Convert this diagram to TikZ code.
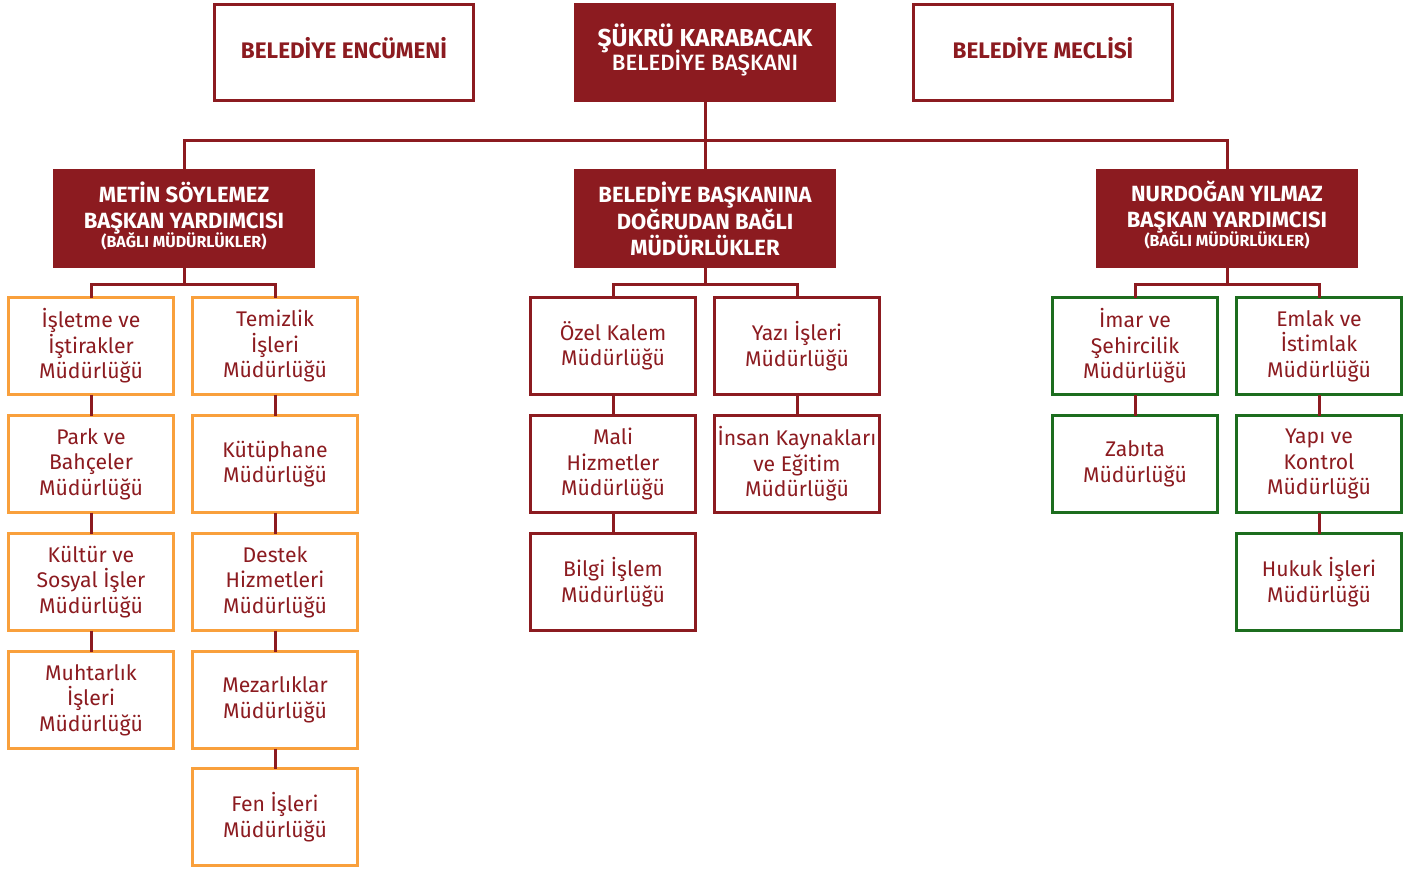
\documentclass[tikz,border=0pt]{standalone}
\usepackage{fontspec}
\setmainfont{Fira Sans}
\IfFontExistsTF{Fira Sans Medium}{\newfontface\medfont{Fira Sans Medium}}{\newcommand{\medfont}{\bfseries}}
\usetikzlibrary{calc}
\definecolor{dred}{HTML}{8C1B20}
\definecolor{orng}{HTML}{F9A03C}
\definecolor{grn}{HTML}{1C6D1E}
\tikzset{
  conn/.style={draw=dred,line width=3pt},
  headbox/.style={draw=dred,line width=3pt,fill=white,minimum width=259pt,minimum height=96pt,inner sep=0pt,outer sep=0pt,text=dred,font=\fontsize{22.5}{26}\selectfont\bfseries,align=center},
  fillbox/.style={fill=dred,minimum width=262pt,minimum height=99pt,inner sep=0pt,outer sep=0pt,text=white,font=\fontsize{22}{26}\selectfont\bfseries,align=center},
  unit/.style={fill=white,line width=3pt,minimum width=165pt,minimum height=97pt,inner sep=0pt,outer sep=0pt,text=dred,font=\fontsize{21.2}{25.5}\selectfont,align=center},
  obox/.style={unit,draw=orng},
  rbox/.style={unit,draw=dred},
  gbox/.style={unit,draw=grn},
}
\newcommand{\smallnote}[1]{{\fontsize{16}{20}\selectfont #1}}
\newcommand{\lift}[2]{\raisebox{#1}[\height][\depth]{\parbox{250pt}{\centering #2}}}
\begin{document}
\begin{tikzpicture}[x=1pt,y=-1pt]
\useasboundingbox (0,0) rectangle (1415,871);
% top level
\node[headbox] (enc) at (344,52.5) {\lift{4pt}{BELEDİYE ENCÜMENİ}};
\node[fillbox] (pres) at (705,52) {\lift{2pt}{{\fontsize{24.5}{26}\selectfont ŞÜKRÜ KARABACAK}\\[-3pt]{\medfont\fontsize{22.2}{26}\selectfont BELEDİYE BAŞKANI}}};
\node[headbox] (mec) at (1043,52.5) {\lift{4pt}{BELEDİYE MECLİSİ}};
% second level
\node[fillbox] (L) at (184,218.5) {\lift{3pt}{METİN SÖYLEMEZ\\BAŞKAN YARDIMCISI\\[-7pt]\smallnote{(BAĞLI MÜDÜRLÜKLER)}}};
\node[fillbox] (M) at (705,218.5) {BELEDİYE BAŞKANINA\\DOĞRUDAN BAĞLI\\MÜDÜRLÜKLER};
\node[fillbox] (R) at (1227,218.5) {\lift{3pt}{NURDOĞAN YILMAZ\\BAŞKAN YARDIMCISI\\[-7pt]\smallnote{(BAĞLI MÜDÜRLÜKLER)}}};
% bus
\coordinate (bus) at (705,140);
\draw[conn] (pres.south) -- (M.north);
\draw[conn] (L.north) |- (bus) -| (R.north);
% units left
\node[obox] (a1) at (91,346) {İşletme ve\\İştirakler\\Müdürlüğü};
\node[obox] (a2) at (91,464) {Park ve\\Bahçeler\\Müdürlüğü};
\node[obox] (a3) at (91,582) {Kültür ve\\Sosyal İşler\\Müdürlüğü};
\node[obox] (a4) at (91,700) {Muhtarlık\\İşleri\\Müdürlüğü};
\node[obox] (b1) at (275,346) {Temizlik\\İşleri\\Müdürlüğü};
\node[obox] (b2) at (275,464) {Kütüphane\\Müdürlüğü};
\node[obox] (b3) at (275,582) {Destek\\Hizmetleri\\Müdürlüğü};
\node[obox] (b4) at (275,700) {Mezarlıklar\\Müdürlüğü};
\node[obox] (b5) at (275,817) {Fen İşleri\\Müdürlüğü};
% units center
\node[rbox] (c1) at (613,346) {Özel Kalem\\Müdürlüğü};
\node[rbox] (c2) at (613,464) {Mali\\Hizmetler\\Müdürlüğü};
\node[rbox] (c3) at (613,582) {Bilgi İşlem\\Müdürlüğü};
\node[rbox] (d1) at (797,346) {Yazı İşleri\\Müdürlüğü};
\node[rbox] (d2) at (797,464) {İnsan Kaynakları\\ve Eğitim\\Müdürlüğü};
% units right
\node[gbox] (e1) at (1135,346) {İmar ve\\Şehircilik\\Müdürlüğü};
\node[gbox] (e2) at (1135,464) {Zabıta\\Müdürlüğü};
\node[gbox] (f1) at (1319,346) {Emlak ve\\İstimlak\\Müdürlüğü};
\node[gbox] (f2) at (1319,464) {Yapı ve\\Kontrol\\Müdürlüğü};
\node[gbox] (f3) at (1319,582) {Hukuk İşleri\\Müdürlüğü};
% junctions
\coordinate (jl) at (184,284);
\coordinate (jm) at (705,284);
\coordinate (jr) at (1227,284);
\draw[conn] (L.south) -- (jl);
\draw[conn] (a1.north) |- (jl) -| (b1.north);
\draw[conn] (M.south) -- (jm);
\draw[conn] (c1.north) |- (jm) -| (d1.north);
\draw[conn] (R.south) -- (jr);
\draw[conn] (e1.north) |- (jr) -| (f1.north);
\draw[conn] (a1.south) -- (a2.north) (a2.south) -- (a3.north) (a3.south) -- (a4.north);
\draw[conn] (b1.south) -- (b2.north) (b2.south) -- (b3.north) (b3.south) -- (b4.north) (b4.south) -- (b5.north);
\draw[conn] (c1.south) -- (c2.north) (c2.south) -- (c3.north);
\draw[conn] (d1.south) -- (d2.north);
\draw[conn] (e1.south) -- (e2.north);
\draw[conn] (f1.south) -- (f2.north) (f2.south) -- (f3.north);
\end{tikzpicture}
\end{document}
